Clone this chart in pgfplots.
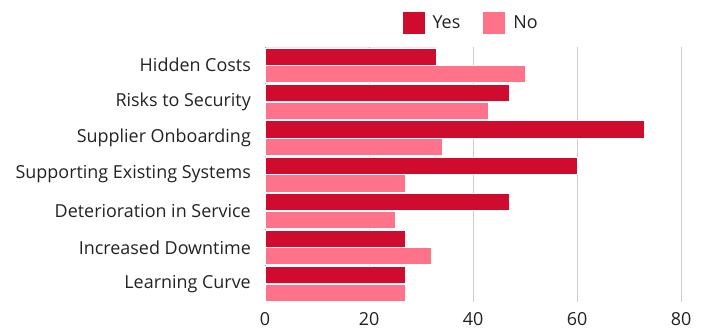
\documentclass[border=0pt]{standalone}
\usepackage{fontspec}
\setmainfont{Open Sans}
\usepackage{pgfplots}
\pgfplotsset{compat=1.18}
\definecolor{yescol}{RGB}{208,12,46}
\definecolor{nocol}{RGB}{255,115,138}
\definecolor{txt}{RGB}{34,34,34}
\definecolor{gridc}{RGB}{204,204,204}
\begin{document}
\begin{tikzpicture}[x=1bp,y=1bp]
\useasboundingbox (0,0) rectangle (708,329);
\begin{axis}[
  at={(265bp,27bp)}, anchor=south west,
  scale only axis, width=416bp, height=255bp,
  xbar, bar width=0.47,
  xmin=0, xmax=80, ymin=-0.5, ymax=6.5,
  xtick={0,20,40,60,80},
  ytick={0,1,2,3,4,5,6},
  yticklabels={Learning Curve,Increased Downtime,Deterioration in Service,Supporting Existing Systems,Supplier Onboarding,Risks to Security,Hidden Costs},
  axis lines*=left,
  x axis line style={draw=none},
  y axis line style={draw=gridc!80!black, line width=0.8bp},
  xmajorgrids, grid style={gridc, line width=0.8bp},
  major tick length=0pt,
  /pgf/number format/assume math mode=true,
  tick label style={font=\fontsize{18}{21}\selectfont, text=txt},
  yticklabel style={inner sep=0pt, xshift=-14bp},
  xticklabel style={inner sep=0pt, yshift=-10bp},
  legend style={at={(0.493,1)}, anchor=south, yshift=13bp, draw=none, fill=none,
    font=\fontsize{18}{21}\selectfont, text=txt, inner sep=0pt,
    nodes={inner sep=0pt},
    /tikz/every odd column/.append style={column sep=8bp},
    /tikz/every even column/.append style={column sep=23bp}},
  legend columns=2,
  legend image code/.code={\path[#1,draw=none] (0bp,-11bp) rectangle (22bp,11bp);},
  legend cell align=left,
]
\addplot[fill=yescol, draw=white, line width=0.6bp, bar shift=0.24] coordinates {
  (27,0) (27,1) (47,2) (60,3) (73,4) (47,5) (33,6)};
\addplot[fill=nocol, draw=white, line width=0.6bp, bar shift=-0.24] coordinates {
  (27,0) (32,1) (25,2) (27,3) (34,4) (43,5) (50,6)};
\legend{Yes,No}
\end{axis}
\end{tikzpicture}
\end{document}
